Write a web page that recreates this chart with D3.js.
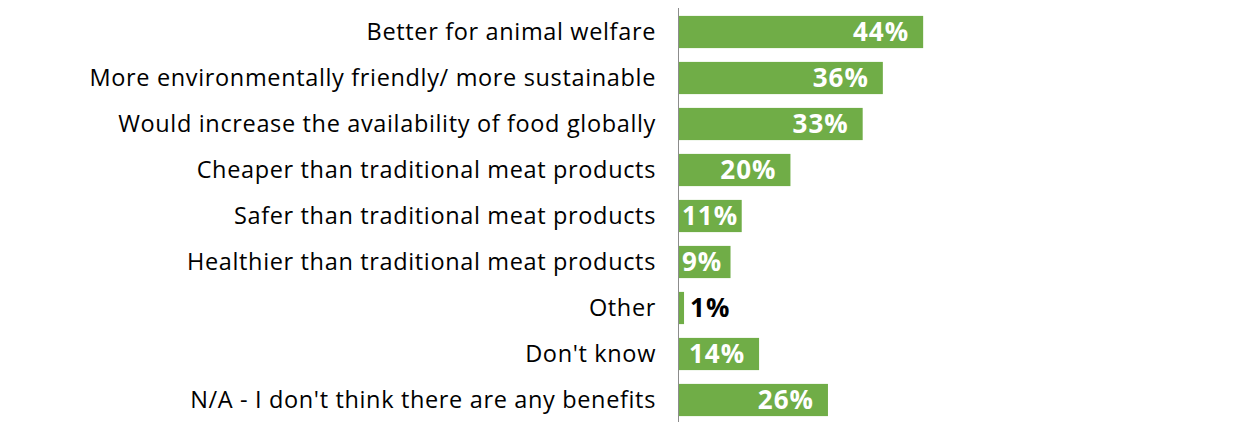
<!DOCTYPE html>
<html><head><meta charset="utf-8">
<script src="https://cdn.jsdelivr.net/npm/d3@7"></script>
<style>body{margin:0;background:#fff;}svg{display:block;}</style>
</head><body>
<svg id="chart" width="1240" height="432"></svg>
<script>
const categories = [
  "Better for animal welfare",
  "More environmentally friendly/ more sustainable",
  "Would increase the availability of food globally",
  "Cheaper than traditional meat products",
  "Safer than traditional meat products",
  "Healthier than traditional meat products",
  "Other",
  "Don't know",
  "N/A - I don't think there are any benefits"
];
const values = [43.6, 36.4, 32.8, 19.9, 11.2, 9.2, 0.9, 14.3, 26.6];
const valueLabels = ["44%", "36%", "33%", "20%", "11%", "9%", "1%", "14%", "26%"];

const svg = d3.select("#chart");
const x0 = 679;
const x = d3.scaleLinear().domain([0, 50]).range([x0, x0 + 280]);
const y = d3.scaleBand().domain(categories).range([9, 423]).paddingInner(0.3).paddingOuter(0.15);

svg.selectAll("rect.bar").data(categories).join("rect")
  .attr("class", "bar")
  .attr("x", x0)
  .attr("y", d => y(d))
  .attr("width", (d, i) => x(values[i]) - x0)
  .attr("height", y.bandwidth())
  .attr("fill", "#70AD47");

svg.append("line").attr("x1", 678.5).attr("x2", 678.5).attr("y1", 8).attr("y2", 422)
  .attr("stroke", "#8c8c8c").attr("stroke-width", 1);

const fontCat = "'Open Sans', 'Noto Sans', sans-serif";
svg.selectAll("text.cat").data(categories).join("text")
  .attr("class", "cat")
  .attr("x", 656)
  .attr("y", d => y(d) + y.bandwidth() / 2)
  .attr("dy", "0.36em")
  .attr("text-anchor", "end")
  .attr("font-family", fontCat)
  .attr("font-size", 23.5)
  .attr("letter-spacing", 0.65)
  .attr("fill", "#000")
  .text(d => d);

const vl = svg.selectAll("text.val").data(categories).join("text")
  .attr("class", "val")
  .attr("y", d => y(d) + y.bandwidth() / 2)
  .attr("dy", "0.36em")
  .attr("font-family", fontCat)
  .attr("font-weight", "bold")
  .attr("font-size", 26)
  .attr("letter-spacing", 1)
  .text((d, i) => valueLabels[i]);

vl.each(function(d, i) {
  const t = d3.select(this);
  const w = this.getComputedTextLength();
  const end = x(values[i]);
  if (end - x0 < 20) {
    t.attr("x", end + 6).attr("fill", "#000");
  } else {
    t.attr("x", Math.max(x0 + 3, end - 14 - w)).attr("fill", "#fff");
  }
});
</script>
</body></html>
